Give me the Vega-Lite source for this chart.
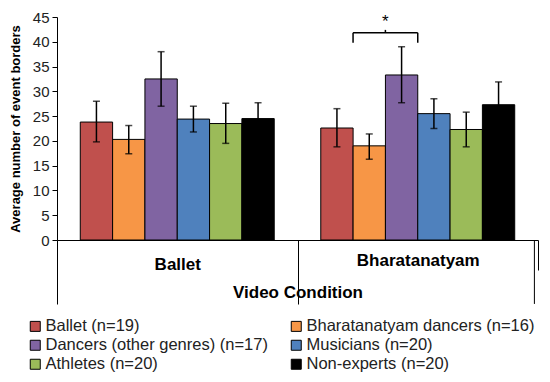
{
  "$schema": "https://vega.github.io/schema/vega-lite/v6.json",
  "width": 481,
  "height": 223,
  "autosize": "none",
  "padding": {"left": 57, "top": 17, "right": 12, "bottom": 134},
  "config": {
    "view": {"stroke": null},
    "font": "Liberation Sans",
    "axisY": {
      "titleFontSize": 13, "titleFontWeight": "bold", "titleColor": "black", "titlePadding": 10,
      "labelFontSize": 15, "labelColor": "#222222", "labelPadding": 3, "labelOverlap": false,
      "tickSize": 5, "tickColor": "black", "domainColor": "black", "grid": false
    }
  },
  "resolve": {"axis": {"x": "independent"}},
  "datasets": {
    "bars": [
      {"condition": "Ballet", "group": "Ballet (n=19)", "mean": 23.8, "lo": 19.8, "hi": 28.0},
      {"condition": "Ballet", "group": "Bharatanatyam dancers (n=16)", "mean": 20.3, "lo": 17.4, "hi": 23.1},
      {"condition": "Ballet", "group": "Dancers (other genres) (n=17)", "mean": 32.5, "lo": 27.0, "hi": 38.0},
      {"condition": "Ballet", "group": "Musicians (n=20)", "mean": 24.4, "lo": 21.8, "hi": 27.0},
      {"condition": "Ballet", "group": "Athletes (n=20)", "mean": 23.5, "lo": 19.5, "hi": 27.6},
      {"condition": "Ballet", "group": "Non-experts (n=20)", "mean": 24.5, "lo": 21.3, "hi": 27.7},
      {"condition": "Bharatanatyam", "group": "Ballet (n=19)", "mean": 22.6, "lo": 18.8, "hi": 26.5},
      {"condition": "Bharatanatyam", "group": "Bharatanatyam dancers (n=16)", "mean": 19.0, "lo": 16.3, "hi": 21.4},
      {"condition": "Bharatanatyam", "group": "Dancers (other genres) (n=17)", "mean": 33.3, "lo": 27.7, "hi": 39.0},
      {"condition": "Bharatanatyam", "group": "Musicians (n=20)", "mean": 25.5, "lo": 22.5, "hi": 28.5},
      {"condition": "Bharatanatyam", "group": "Athletes (n=20)", "mean": 22.3, "lo": 18.8, "hi": 25.8},
      {"condition": "Bharatanatyam", "group": "Non-experts (n=20)", "mean": 27.3, "lo": 22.7, "hi": 31.9}
    ],
    "brace": [
      {"condition": "Bharatanatyam", "tip": 39.8, "bar": 41.8, "peak": 42.4, "star": 43.9, "label": "*"}
    ]
  },
  "layer": [
    {
      "data": {"name": "bars"},
      "mark": {"type": "bar", "stroke": "black", "strokeWidth": 1},
      "encoding": {
        "x": {
          "field": "condition", "type": "nominal", "sort": null,
          "scale": {"paddingInner": 0, "paddingOuter": 0},
          "axis": {
            "orient": "bottom",
            "title": "Video Condition", "titleFontSize": 17, "titleFontWeight": "bold", "titleColor": "black",
            "titleY": 52, "titleBaseline": "middle",
            "labelFontSize": 17, "labelFontWeight": "bold", "labelColor": "black", "labelAngle": 0,
            "labelPadding": {"condition": {"test": "datum.value === 'Bharatanatyam'", "value": -18}, "value": -48},
            "tickBand": "extent",
            "tickSize": {"condition": {"test": "datum.value === 'Bharatanatyam'", "value": 30}, "value": 64},
            "tickColor": "black", "tickWidth": 1, "domainColor": "black", "domainWidth": 1
          }
        },
        "xOffset": {
          "field": "group", "type": "nominal", "sort": null,
          "scale": {"paddingInner": 0, "paddingOuter": 0.72}
        },
        "y": {
          "field": "mean", "type": "quantitative",
          "scale": {"domain": [0, 45], "nice": false},
          "axis": {"title": "Average number of event borders", "values": [0, 5, 10, 15, 20, 25, 30, 35, 40, 45]}
        },
        "fill": {
          "field": "group", "type": "nominal", "sort": null,
          "scale": {
            "domain": ["Ballet (n=19)", "Bharatanatyam dancers (n=16)", "Dancers (other genres) (n=17)", "Musicians (n=20)", "Athletes (n=20)", "Non-experts (n=20)"],
            "range": ["#C0504D", "#F79646", "#8064A2", "#4F81BD", "#9BBB59", "#000000"]
          },
          "legend": {
            "title": null, "orient": "none", "legendX": -30, "legendY": 301, "direction": "horizontal",
            "columns": 2, "columnPadding": 20, "rowPadding": 2, "padding": 0,
            "symbolType": "square", "symbolSize": 100, "symbolStrokeColor": "black", "symbolStrokeWidth": 1, "symbolOpacity": 1,
            "labelFontSize": 16.5, "labelColor": "#222222", "labelOffset": 2, "labelLimit": 400
          }
        }
      }
    },
    {
      "data": {"name": "bars"},
      "mark": {"type": "rule", "color": "black", "strokeWidth": 1.5},
      "encoding": {
        "x": {"field": "condition", "type": "nominal", "sort": null, "axis": null},
        "xOffset": {"field": "group", "type": "nominal", "sort": null},
        "y": {"field": "lo", "type": "quantitative", "axis": {"title": "Average number of event borders", "values": [0, 5, 10, 15, 20, 25, 30, 35, 40, 45]}},
        "y2": {"field": "hi"}
      }
    },
    {
      "data": {"name": "bars"},
      "mark": {"type": "tick", "color": "black", "thickness": 1.5, "size": 7},
      "encoding": {
        "x": {"field": "condition", "type": "nominal", "sort": null, "axis": null},
        "xOffset": {"field": "group", "type": "nominal", "sort": null},
        "y": {"field": "lo", "type": "quantitative", "axis": {"title": "Average number of event borders", "values": [0, 5, 10, 15, 20, 25, 30, 35, 40, 45]}}
      }
    },
    {
      "data": {"name": "bars"},
      "mark": {"type": "tick", "color": "black", "thickness": 1.5, "size": 7},
      "encoding": {
        "x": {"field": "condition", "type": "nominal", "sort": null, "axis": null},
        "xOffset": {"field": "group", "type": "nominal", "sort": null},
        "y": {"field": "hi", "type": "quantitative", "axis": {"title": "Average number of event borders", "values": [0, 5, 10, 15, 20, 25, 30, 35, 40, 45]}}
      }
    },
    {
      "data": {"name": "brace"},
      "mark": {"type": "rule", "color": "black", "strokeWidth": 1},
      "encoding": {
        "x": {"field": "condition", "type": "nominal", "bandPosition": 0.985, "axis": null},
        "y": {"datum": 0, "type": "quantitative", "axis": {"title": "Average number of event borders", "values": [0, 5, 10, 15, 20, 25, 30, 35, 40, 45]}},
        "y2": {"datum": -12.9}
      }
    },
    {
      "data": {"name": "brace"},
      "mark": {"type": "rule", "color": "black", "strokeWidth": 1.5},
      "encoding": {
        "x": {"field": "condition", "type": "nominal", "bandPosition": 0.231, "axis": null},
        "y": {"field": "tip", "type": "quantitative", "axis": {"title": "Average number of event borders", "values": [0, 5, 10, 15, 20, 25, 30, 35, 40, 45]}},
        "y2": {"field": "bar"}
      }
    },
    {
      "data": {"name": "brace"},
      "mark": {"type": "rule", "color": "black", "strokeWidth": 1.5},
      "encoding": {
        "x": {"field": "condition", "type": "nominal", "bandPosition": 0.5, "axis": null},
        "y": {"field": "tip", "type": "quantitative", "axis": {"title": "Average number of event borders", "values": [0, 5, 10, 15, 20, 25, 30, 35, 40, 45]}},
        "y2": {"field": "bar"}
      }
    },
    {
      "data": {"name": "brace"},
      "mark": {"type": "rule", "color": "black", "strokeWidth": 1.5},
      "encoding": {
        "x": {"field": "condition", "type": "nominal", "bandPosition": 0.3655, "axis": null},
        "y": {"field": "bar", "type": "quantitative", "axis": {"title": "Average number of event borders", "values": [0, 5, 10, 15, 20, 25, 30, 35, 40, 45]}},
        "y2": {"field": "peak"}
      }
    },
    {
      "data": {"name": "brace"},
      "mark": {"type": "rule", "color": "black", "strokeWidth": 1.5},
      "encoding": {
        "x": {"field": "condition", "type": "nominal", "bandPosition": 0.231, "axis": null},
        "x2": {"field": "condition"},
        "y": {"field": "bar", "type": "quantitative", "axis": {"title": "Average number of event borders", "values": [0, 5, 10, 15, 20, 25, 30, 35, 40, 45]}}
      }
    },
    {
      "data": {"name": "brace"},
      "mark": {"type": "text", "color": "black", "fontSize": 17, "baseline": "middle", "align": "center"},
      "encoding": {
        "x": {"field": "condition", "type": "nominal", "bandPosition": 0.3655, "axis": null},
        "y": {"field": "star", "type": "quantitative", "axis": {"title": "Average number of event borders", "values": [0, 5, 10, 15, 20, 25, 30, 35, 40, 45]}},
        "text": {"field": "label"}
      }
    }
  ]
}
